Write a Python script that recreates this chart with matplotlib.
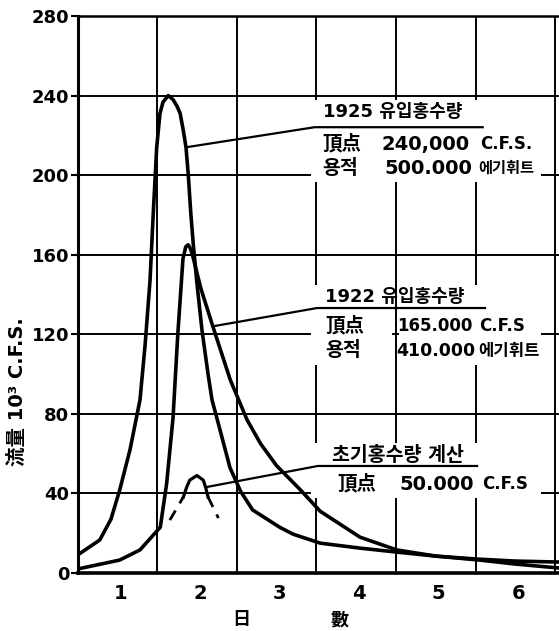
import matplotlib
matplotlib.use('Agg')
import matplotlib.pyplot as plt
from matplotlib.patches import Rectangle
from matplotlib.transforms import ScaledTranslation

# ---------------- data ----------------
y_ticks = [0, 40, 80, 120, 160, 200, 240, 280]
grid_days = [1, 2, 3, 4, 5, 6]
day_labels = ['1', '2', '3', '4', '5', '6']

days_1925 = [0.0, 0.28, 0.42, 0.53, 0.66, 0.785, 0.85, 0.911, 0.952, 0.995, 1.036, 1.074,
             1.14, 1.2, 1.25, 1.29, 1.331, 1.363, 1.392, 1.423, 1.455, 1.497, 1.564,
             1.64, 1.69, 1.79, 1.915, 2.05, 2.2, 2.54, 2.71, 3.05, 3.55, 4.01, 4.5,
             5.02, 5.5, 6.05]
flow_1925 = [9, 16.6, 27, 41.7, 62, 87, 115, 147, 181, 214, 231, 236.7,
             240, 238, 234.7, 231, 222, 214, 200, 181, 165, 147, 122,
             100, 87, 72, 53, 41, 31.7, 23, 19.5, 15, 12.5, 10.5, 8.5,
             7, 6, 5.5]

days_1922 = [0.0, 0.53, 0.785, 1.04, 1.12, 1.2, 1.26, 1.325, 1.36, 1.39, 1.42, 1.45,
             1.55, 1.70, 1.92, 2.13, 2.3, 2.5, 2.795, 3.05, 3.55, 4.01, 4.5, 5.05, 5.5, 6.05]
flow_1922 = [2, 6.5, 11.6, 23, 45, 78, 120, 158, 164, 165, 163, 159,
             143, 124, 97, 77, 65, 54, 42, 31, 18, 11.6, 8.5, 6.5, 4.5, 2.5]

days_est = [1.33, 1.37, 1.41, 1.50, 1.58, 1.61, 1.64]
flow_est = [38.2, 43, 46.7, 49, 46.7, 43, 38.2]
days_est_left = [1.16, 1.33]
flow_est_left = [26.6, 38.2]
days_est_right = [1.64, 1.77]
flow_est_right = [38.2, 27.6]

ylabel = '流量 10³ C.F.S.'
xlabel_chars = ['日', '數']

# ---------------- figure ----------------
plt.rcParams['font.family'] = ['DejaVu Sans', 'Noto Sans CJK KR']

fig = plt.figure(figsize=(5.59, 6.31), dpi=100)
ax = fig.add_axes([77.5 / 559, 58 / 631, 481.5 / 559, 557 / 631])
ax.set_xlim(0, 481.5 / 79.6)
ax.set_ylim(0, 280)

for d in grid_days:
    ax.axvline(d, color='black', lw=1.4, zorder=1)
for v in y_ticks[1:-1]:
    ax.axhline(v, color='black', lw=1.4, zorder=1)

ax.spines['right'].set_visible(False)
ax.spines['top'].set_linewidth(1.8)
ax.spines['left'].set_linewidth(2.2)
ax.spines['bottom'].set_linewidth(2.6)

ax.set_yticks(y_ticks)
ax.set_yticklabels([str(v) for v in y_ticks], fontsize=13, fontweight='bold')
ax.tick_params(axis='y', length=5, width=1.5, pad=1)
ax.set_xticks([d - 0.5 for d in grid_days])
ax.set_xticklabels(day_labels, fontsize=14, fontweight='bold')
ax.tick_params(axis='x', length=0, pad=8)
off = ScaledTranslation(3 / 100, 0, fig.dpi_scale_trans)
for lab in ax.get_xticklabels():
    lab.set_transform(lab.get_transform() + off)

# curves
ax.plot(days_1925, flow_1925, color='black', lw=2.6, zorder=3,
        solid_capstyle='round', solid_joinstyle='round')
ax.plot(days_1922, flow_1922, color='black', lw=2.6, zorder=3,
        solid_capstyle='round', solid_joinstyle='round')
ax.plot(days_est, flow_est, color='black', lw=2.3, zorder=3, solid_joinstyle='round')
ax.plot(days_est_left, flow_est_left, color='black', lw=2.0, ls=(0, (4, 3)), zorder=3)
ax.plot(days_est_right, flow_est_right, color='black', lw=2.0, ls=(0, (4, 3)), zorder=3)

# white backgrounds of annotation blocks
for (x0, x1, y0, y1) in [(2.93, 5.82, 196.5, 237.7),
                         (2.93, 3.95, 104.5, 144.7), (4.04, 5.82, 104.5, 144.7),
                         (2.93, 5.82, 37.7, 65.3)]:
    ax.add_patch(Rectangle((x0, y0), x1 - x0, y1 - y0, facecolor='white',
                           edgecolor='none', zorder=2))

# leaders and underlines
ax.plot([1.363, 2.98, 5.09], [214, 224.1, 224.1], color='black', lw=1.6, zorder=3)
ax.plot([1.70, 3.01, 5.12], [124, 133.2, 133.2], color='black', lw=1.6, zorder=3)
ax.plot([1.62, 3.02, 5.02], [43.2, 53.8, 53.8], color='black', lw=1.6, zorder=3)

def t(x, y, s, size=14):
    ax.text(x, y, s, fontsize=size, fontweight='bold', ha='left', va='center', zorder=4)

# 1925 block
t(3.08, 231.7, '1925 유입홍수량', 13)
t(3.08, 215.6, '頂点', 14)
t(3.825, 215.6, '240,000', 14)
t(5.06, 215.6, 'C.F.S.', 12)
t(3.08, 203.5, '용적', 14)
t(3.86, 203.5, '500.000', 14)
t(5.03, 203.5, '에기휘트', 11)

# 1922 block
t(3.11, 138.7, '1922 유입홍수량', 13)
t(3.11, 124.1, '頂点', 14)
t(4.01, 124.1, '165.000', 12)
t(5.04, 124.1, 'C.F.S', 12)
t(3.11, 111.6, '용적', 14)
t(4.01, 111.6, '410.000', 12.5)
t(5.04, 111.6, '에기휘트', 12)

# estimate block
t(3.2, 59.3, '초기홍수량 계산', 14)
t(3.26, 44.7, '頂点', 14)
t(4.05, 44.7, '50.000', 14)
t(5.08, 44.7, 'C.F.S', 12)

fig.text(17 / 559, 1 - 392 / 631, ylabel, rotation=90, ha='center', va='center',
         fontsize=14, fontweight='bold')
for xc, ch in zip([241, 339], xlabel_chars):
    fig.text(xc / 559, 1 - 620 / 631, ch, ha='center', va='center',
             fontsize=13, fontweight='bold')

fig.savefig('out.png', dpi=100, facecolor='white')
